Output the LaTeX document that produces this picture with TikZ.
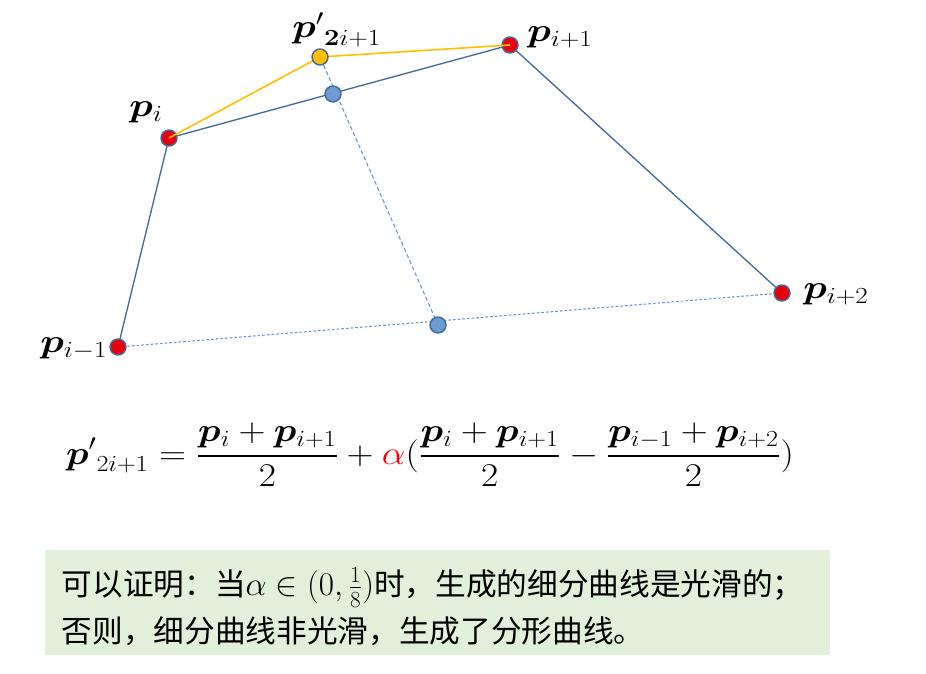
\documentclass[tikz,border=0pt]{standalone}
\usepackage{amsmath}
\usepackage{amssymb}
\usepackage{bm}
\usepackage{graphicx}
\usepackage{fontspec}
\newfontfamily\cjk{Noto Sans CJK SC}
\usetikzlibrary{positioning}

\definecolor{edgeblue}{RGB}{68,106,152}
\definecolor{dotred}{RGB}{232,0,12}
\definecolor{dotyellow}{RGB}{255,192,0}
\definecolor{dotblue}{RGB}{108,155,212}
\definecolor{dashblue}{RGB}{100,150,210}
\definecolor{boxgreen}{RGB}{226,239,218}

\newcommand{\wider}[1]{\scalebox{1.18}[1]{#1}}

\tikzset{
  ctrl/.style={circle, draw=edgeblue, line width=1.1pt, fill=dotred, inner sep=0pt, minimum size=12pt},
  newpt/.style={ctrl, fill=dotyellow},
  midpt/.style={ctrl, fill=dotblue},
  poly/.style={draw=edgeblue, line width=1pt},
  cut/.style={draw=dotyellow, line width=1.2pt},
  aux/.style={draw=dashblue, line width=0.8pt, dash pattern={on 3pt off 2pt}},
  lbl/.style={font=\fontsize{24}{28}\selectfont, anchor=west, inner sep=0pt}
}

\begin{document}
\begin{tikzpicture}[x=0.75pt,y=0.75pt,yscale=-1,xscale=1]
\useasboundingbox (0,0) rectangle (926,674);

%Points
\coordinate (pim) at (118,347);
\coordinate (pi) at (169,138);
\coordinate (pip) at (510,45);
\coordinate (pipp) at (782,293);
\coordinate (mtop) at (333,94);
\coordinate (mbot) at (438,325);
\coordinate (pnew) at (320,57);

%Straight Lines
\draw [poly] (pim) -- (pi) -- (pip) -- (pipp);
\draw [aux, dash pattern={on 2pt off 1.5pt}] (pim) -- (pipp);
\draw [aux] (mbot) -- (pnew);

%Shape: Circle
\node [ctrl] (Pim) at (pim) {};
\node [ctrl] (Pi) at (pi) {};
\node [ctrl] (Pip) at (pip) {};
\node [ctrl] (Pipp) at (pipp) {};
\node [midpt] (Mtop) at (mtop) {};
\node [midpt] (Mbot) at (mbot) {};

%Straight Lines
\draw [cut] (Pi.center) -- (pnew) -- (Pip.center);
\node [newpt] (Pnew) at (pnew) {};

% Text Node
\draw (129,112) node [lbl] (Lpi) {\wider{$\bm{p}_i$}};
\draw (527,37) node [lbl] (Lpip) {\wider{$\bm{p}_{i+1}$}};
\draw (292,30) node [lbl] (Lpnew) {\wider{${\bm{p}'}_{\bm{2}i+1}$}};
\draw (803,294) node [lbl] (Lpipp) {\wider{$\bm{p}_{i+2}$}};
\draw (40,349) node [lbl] (Lpim) {\wider{$\bm{p}_{i-1}$}};

% Text Node
\draw (430,455) node [font=\fontsize{24}{28}\selectfont] (rule) {\scalebox{1.13}[1]{$\displaystyle {\bm{p}'}_{2i+1}=\frac{\bm{p}_i+\bm{p}_{i+1}}{2}+{\color{red}\alpha}(\frac{\bm{p}_i+\bm{p}_{i+1}}{2}-\frac{\bm{p}_{i-1}+\bm{p}_{i+2}}{2})$}};

%Shape: Rectangle
\draw [fill=boxgreen, draw=none] (45,550) rectangle (830,655);
% Text Node
\draw (57,607) node [anchor=west, align=left, font=\fontsize{23}{35}\selectfont] (note) {\cjk 可以证明：当$\alpha\in(0,\genfrac{}{}{0.4pt}{}{\scriptstyle 1}{\scriptstyle 8})$时，生成的细分曲线是光滑的；\\\cjk 否则，细分曲线非光滑，生成了分形曲线。};

\end{tikzpicture}
\end{document}
